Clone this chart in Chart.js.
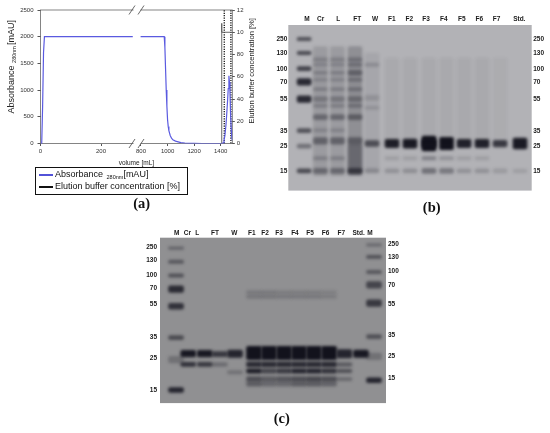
<!DOCTYPE html>
<html>
<head>
<meta charset="UTF-8">
<title>Purification chromatogram and SDS-PAGE</title>
<script src="https://cdn.jsdelivr.net/npm/chart.js@4.4.0/dist/chart.umd.min.js"></script>
<style>
  html, body {margin: 0; padding: 0; background: #fff;}
  body {width: 550px; height: 433px; position: relative; overflow: hidden;
        font-family: "Liberation Sans", Arial, sans-serif;}
  canvas {position: absolute;}
  #chromCanvas {left: 0; top: 0;}
  #gelB {left: 268px; top: 8px;}
  #gelC {left: 132px; top: 222px;}
  #legend {position: absolute; left: 35px; top: 167px; width: 151px; height: 25px;
           border: 1px solid #111; font-size: 9px; color: #111; line-height: 11.7px; padding-top: 1px;}
  #legend .row {position: relative; padding-left: 19px; white-space: nowrap;}
  #legend .sw {position: absolute; left: 3px; top: 5px; width: 14px; height: 2px;}
  #legend sub {font-size: 5.5px; vertical-align: -2px; margin-left: 1px; line-height: 0;}
  .cap {position: absolute; transform: translate(-50%, -50%);
        font: bold 14.5px "Liberation Serif", "DejaVu Serif", serif; color: #111;}
</style>
</head>
<body>
<canvas id="chromCanvas" width="275" height="170"></canvas>
<div id="legend">
  <div class="row"><span class="sw" style="background:#5252d8"></span>Absorbance <sub>280nm</sub>[mAU]</div>
  <div class="row"><span class="sw" style="background:#111"></span>Elution buffer concentration [%]</div>
</div>
<div class="cap" style="left:141.7px; top:203px">(a)</div>
<canvas id="gelB" width="282" height="188"></canvas>
<div class="cap" style="left:431.7px; top:206.7px">(b)</div>
<canvas id="gelC" width="278" height="188"></canvas>
<div class="cap" style="left:281.7px; top:418.3px">(c)</div>

<script>
// ---------- (a) chromatogram data ----------
var absVol = [0, 4, 7, 10, 13, 305, 550, 797, 975, 980, 985, 990, 995, 1000, 1005, 1010, 1020, 1030,
              1040, 1060, 1080, 1100, 1130, 1160, 1200, 1260, 1410, 1418, 1425, 1432, 1440, 1445,
              1452, 1457, 1462, 1466, 1470, 1475, 1480, 1484, 1487];
var absMAU = [0, 0, 700, 1700, 2000, 2000, null, 2000, 2000, 1800, 1400, 1000, 700, 450, 320, 240, 150, 100,
              70, 45, 30, 15, 7, 4, 2, 0, 0, 10, 60, 150, 350, 530,
              800, 1030, 1270, 1150, 960, 520, 250, 110, 60];
var eluVol = [1408, 1408, 1408, 1487];
var eluPct = [0, 10.8, 10, 10];
var fracVol = [1427, 1477];
var volTicks = [0, 200, 800, 1000, 1200, 1400];
var eluTickLabels = ['0', '20', '40', '60', '80', '10', '12'];

// broken x axis: 0-319 mL at full scale, then 770 mL onward compressed
var BREAK_AT = 319, RESUME_AT = 770, RIGHT_RATIO = 0.439;
function toAxis(v) {
  return v <= BREAK_AT ? v : BREAK_AT + (v - RESUME_AT) * RIGHT_RATIO;
}

// ---------- (b) gel ----------
var gelBLanes = ['M', 'Cr', 'L', 'FT', 'W', 'F1', 'F2', 'F3', 'F4', 'F5', 'F6', 'F7', 'Std.'];
var gelBLabelX = [7.7, 13.3, 20.5, 28.3, 35.6, 42.5, 49.7, 56.6, 63.9, 71.3, 78.5, 85.6, 94.9];
var gelBLaneX = [6.5, 13.2, 20.2, 27.4, 34.4, 42.6, 50, 57.8, 65, 72.2, 79.6, 87, 95.2];
var markerKDa = [250, 130, 100, 70, 55, 35, 25, 15];
var gelBMarkerPos = [8.7, 17.1, 26.4, 34.3, 44.7, 63.9, 73.2, 88.1];
// [lane, migration, band width, darkness]
var gelBBands = [
  [0, 8.5, 2, .6], [0, 16.9, 2, .65], [0, 26.4, 2.5, .7], [0, 34.4, 4, .85], [0, 44.7, 4, .85],
  [0, 63.8, 2.5, .6], [0, 73.2, 2.5, .4], [0, 88.1, 2.5, .65],
  [1, 52, 78, .14], [1, 20.9, 2, .22], [1, 24, 2, .18], [1, 28.8, 2, .22], [1, 33, 2, .18], [1, 38.8, 2, .22],
  [1, 44.7, 3, .28], [1, 48.7, 2, .22], [1, 55.6, 3, .38], [1, 63.5, 2, .18], [1, 70, 4, .42], [1, 80.5, 2, .22], [1, 88.1, 3, .38],
  [2, 52, 78, .14], [2, 20.9, 2, .22], [2, 24, 2, .18], [2, 28.8, 2, .22], [2, 33, 2, .18], [2, 38.8, 2, .22],
  [2, 44.7, 3, .28], [2, 48.7, 2, .22], [2, 55.6, 3, .38], [2, 63.5, 2, .18], [2, 70, 4, .42], [2, 80.5, 2, .22], [2, 88.1, 3, .38],
  [3, 52, 78, .22], [3, 81, 18, .3], [3, 20.9, 2, .28], [3, 24, 2, .28], [3, 28.8, 3, .38], [3, 33, 2, .28], [3, 38.8, 2, .28],
  [3, 44.7, 3, .32], [3, 48.7, 2, .28], [3, 55.6, 3, .42], [3, 70, 4, .42], [3, 88.1, 3, .6],
  [4, 52, 70, .07], [4, 24, 2, .18], [4, 44, 3, .14], [4, 50, 2, .14], [4, 71.5, 3.5, .6], [4, 88.1, 2.5, .25],
  [5, 71.6, 5, .92], [5, 80.5, 2, .12], [5, 88.1, 2.5, .2], [5, 45, 50, .05],
  [6, 71.6, 5.5, .95], [6, 80.5, 2, .12], [6, 88.1, 2.5, .22], [6, 45, 50, .05],
  [7, 71.6, 9, 1], [7, 71.6, 5, 1], [7, 80.5, 2, .3], [7, 88.1, 3, .4], [7, 45, 50, .05],
  [8, 71.6, 7.5, 1], [8, 80.5, 2, .2], [8, 88.1, 3, .35], [8, 45, 50, .05],
  [9, 71.6, 5, .9], [9, 80.5, 2, .12], [9, 88.1, 2.5, .2], [9, 45, 50, .05],
  [10, 71.6, 5, .9], [10, 80.5, 2, .12], [10, 88.1, 2.5, .2], [10, 45, 50, .05],
  [11, 71.6, 4, .75], [11, 88.1, 2.5, .15], [11, 45, 50, .04],
  [12, 71.6, 6.5, .95], [12, 88.1, 2, .12]
];

// ---------- (c) gel ----------
var gelCLanes = ['M', 'Cr', 'L', 'FT', 'W', 'F1', 'F2', 'F3', 'F4', 'F5', 'F6', 'F7', 'Std.', 'M'];
var gelCLabelX = [7.4, 12.1, 16.5, 24.3, 32.9, 40.6, 46.5, 52.7, 59.7, 66.4, 73.3, 80.2, 87.9, 92.9];
var gelCLaneX = [7.1, 12.5, 19.8, 26.5, 33.2, 41.6, 48.2, 54.9, 61.5, 68.1, 74.8, 81.6, 88.9, 94.7];
var gelCLeftPos = [5.7, 13.7, 22.8, 30.7, 40.0, 60.4, 72.7, 92.5];
var gelCRightPos = [3.7, 11.6, 20.2, 28.5, 40.0, 59.2, 71.7, 85.0];
var gelCBands = [
  [0, 6.3, 1.5, .35], [0, 14.6, 2, .45], [0, 22.8, 2, .5], [0, 31.1, 4, .8], [0, 41.4, 3.5, .75],
  [0, 60.4, 2.5, .55], [0, 73.7, 4, .25], [0, 92.1, 3, .85],
  [13, 4.3, 1.5, .3], [13, 11.6, 2, .5], [13, 20.8, 2, .45], [13, 28.5, 4, .6], [13, 39.6, 4, .7],
  [13, 59.8, 2.5, .5], [13, 71.7, 4, .25], [13, 86.2, 3, .85],
  [1, 70.1, 4, .95], [1, 76.6, 2.5, .75],
  [2, 70.1, 4, .95], [2, 76.6, 2.5, .7],
  [3, 70.4, 3, .7], [3, 76.6, 2, .3],
  [4, 70.2, 4.5, .85], [4, 81.4, 2, .25],
  [5, 69.7, 8, 1], [5, 76.6, 3, .8], [5, 80.6, 2.5, .9], [5, 85.5, 3, .5], [5, 88.5, 2.5, .4], [5, 33, 2, .18], [5, 35.7, 2, .2],
  [6, 69.7, 8, 1], [6, 76.6, 3, .8], [6, 80.6, 2.5, .6], [6, 85.5, 3, .4], [6, 88.5, 2.5, .3], [6, 33, 2, .18], [6, 35.7, 2, .2],
  [7, 69.7, 8, 1], [7, 76.6, 3, .8], [7, 80.6, 2.5, .7], [7, 85.5, 3, .45], [7, 88.5, 2.5, .3], [7, 33, 2, .15], [7, 35.7, 2, .18],
  [8, 69.7, 8, 1], [8, 76.6, 3, .8], [8, 80.6, 2.5, .85], [8, 85.5, 3, .5], [8, 88.5, 2.5, .4], [8, 33, 2, .15], [8, 35.7, 2, .18],
  [9, 69.7, 8, 1], [9, 76.6, 3, .8], [9, 80.6, 2.5, .85], [9, 85.5, 3, .55], [9, 88.5, 2.5, .4], [9, 33, 2, .15], [9, 35.7, 2, .18],
  [10, 69.7, 8, 1], [10, 76.6, 3, .8], [10, 80.6, 2.5, .75], [10, 85.5, 3, .5], [10, 88.5, 2.5, .35], [10, 33, 2, .12], [10, 35.7, 2, .15],
  [11, 70.2, 5, .85], [11, 76.6, 2, .45], [11, 80.6, 2, .5], [11, 85.5, 2, .3],
  [12, 70.2, 4.5, .95]
];

Chart.defaults.font.family = '"Liberation Sans", Arial, sans-serif';
Chart.defaults.color = '#333';

// ---------- chromatogram ----------
var chromFrame = {
  id: 'chromFrame',
  beforeDatasetsDraw: function (chart) {
    var a = chart.chartArea, ctx = chart.ctx;
    ctx.save();
    ctx.strokeStyle = '#666';
    ctx.lineWidth = 0.8;
    ctx.strokeRect(a.left, a.top, a.right - a.left, a.bottom - a.top);
    ctx.restore();
  },
  afterDatasetsDraw: function (chart) {
    var a = chart.chartArea, ctx = chart.ctx;
    var px = chart.scales.x.getPixelForValue(BREAK_AT);
    ctx.save();
    [a.top, a.bottom].forEach(function (y) {
      ctx.fillStyle = '#fff';
      ctx.fillRect(px - 3.5, y - 1.5, 7, 3);
      ctx.strokeStyle = '#444';
      ctx.lineWidth = 0.8;
      ctx.beginPath();
      ctx.moveTo(px - 8, y + 4.5); ctx.lineTo(px - 2, y - 4.5);
      ctx.moveTo(px + 1, y + 4.5); ctx.lineTo(px + 7, y - 4.5);
      ctx.stroke();
    });
    ctx.restore();
  },
  afterDraw: function (chart) {
    var a = chart.chartArea, ctx = chart.ctx;
    var midY = (a.top + a.bottom) / 2;
    ctx.save();
    ctx.fillStyle = '#222';
    ctx.textBaseline = 'middle';
    // left title with subscript
    ctx.translate(12, midY - 10);
    ctx.rotate(-Math.PI / 2);
    var big = '9px "Liberation Sans", Arial', small = '5.5px "Liberation Sans", Arial';
    ctx.font = big;
    var w1 = ctx.measureText('Absorbance ').width, w3 = ctx.measureText('[mAU]').width;
    ctx.font = small;
    var w2 = ctx.measureText('280nm').width + 1;
    var x = -(w1 + w2 + w3) / 2;
    ctx.font = big; ctx.fillText('Absorbance ', x, 0); x += w1;
    ctx.font = small; ctx.fillText('280nm', x, 2.5); x += w2;
    ctx.font = big; ctx.fillText('[mAU]', x, 0);
    ctx.restore();
    // right title
    ctx.save();
    ctx.fillStyle = '#222';
    ctx.textBaseline = 'middle';
    ctx.textAlign = 'center';
    ctx.translate(251.7, midY - 6);
    ctx.rotate(-Math.PI / 2);
    ctx.font = '7.6px "Liberation Sans", Arial';
    ctx.fillText('Elution buffer concentration [%]', 0, 0);
    ctx.restore();
  }
};

function pts(xs, ys) {
  return xs.map(function (v, i) { return {x: toAxis(v), y: ys[i]}; });
}

var fracSets = fracVol.map(function (v) {
  return {
    data: [{x: toAxis(v), y: 0}, {x: toAxis(v), y: 12}],
    yAxisID: 'y2', borderColor: '#111', borderWidth: 1.3, borderDash: [1.2, 1.2], pointRadius: 0
  };
});

new Chart(document.getElementById('chromCanvas'), {
  type: 'line',
  data: {
    datasets: [
      {label: 'Absorbance 280nm[mAU]', data: pts(absVol, absMAU), yAxisID: 'y',
       borderColor: '#5a5ae0', borderWidth: 1.2, pointRadius: 0, spanGaps: false, tension: 0},
      {label: 'Elution buffer concentration [%]', data: pts(eluVol, eluPct), yAxisID: 'y2',
       borderColor: '#555', borderWidth: 0.9, pointRadius: 0}
    ].concat(fracSets)
  },
  options: {
    responsive: false,
    animation: false,
    layout: {padding: {top: 10}},
    plugins: {legend: {display: false}, tooltip: {enabled: false}},
    scales: {
      x: {
        type: 'linear', min: 0, max: 634,
        afterBuildTicks: function (s) { s.ticks = volTicks.map(function (v) { return {value: toAxis(v)}; }); },
        afterFit: function (s) { s.height = 26.5; },
        ticks: {callback: function (v, i) { return String(volTicks[i]); }, autoSkip: false, maxRotation: 0,
                font: {size: 6}, padding: 2},
        grid: {drawOnChartArea: false, tickLength: 2.5, color: '#555'},
        border: {display: false},
        title: {display: true, text: 'volume [mL]', font: {size: 6.5}, color: '#222', padding: {top: 0, bottom: 3}}
      },
      y: {
        min: 0, max: 2500,
        afterFit: function (s) { s.width = 40.5; },
        ticks: {stepSize: 500, font: {size: 6}, padding: 4,
                callback: function (v) { return String(v); }},
        grid: {drawOnChartArea: false, tickLength: 3, color: '#555'},
        border: {display: false}
      },
      y2: {
        position: 'right', min: 0, max: 12,
        afterFit: function (s) { s.width = 42.7; },
        ticks: {stepSize: 2, font: {size: 6}, padding: 2,
                callback: function (v, i) { return eluTickLabels[i]; }},
        grid: {drawOnChartArea: false, tickLength: 2.5, color: '#555'},
        border: {display: false}
      }
    }
  },
  plugins: [chromFrame]
});

// ---------- gels ----------
function gelChart(id, lanes, labelX, laneX, bands, leftPos, rightPos, box, bg, thick) {
  var gelBack = {
    id: 'gelBack',
    beforeDraw: function (chart) {
      var a = chart.chartArea, ctx = chart.ctx;
      ctx.save();
      ctx.fillStyle = bg;
      ctx.fillRect(a.left, a.top, a.right - a.left, a.bottom - a.top);
      ctx.restore();
    },
    beforeDatasetsDraw: function (chart) { chart.ctx.save(); chart.ctx.filter = 'blur(1.4px)'; },
    afterDatasetsDraw: function (chart) { chart.ctx.restore(); }
  };
  var tickFont = {size: 6.5, weight: 'bold'};
  return new Chart(document.getElementById(id), {
    type: 'bar',
    data: {
      datasets: [{
        data: bands.map(function (b) { return {x: laneX[b[0]], y: [b[1] - b[2] / 2, b[1] + b[2] / 2]}; }),
        backgroundColor: bands.map(function (b) { return 'rgba(18,18,28,' + b[3] + ')'; }),
        barThickness: thick, borderRadius: 2, borderSkipped: false
      }]
    },
    options: {
      responsive: false,
      animation: false,
      layout: {padding: {bottom: box.bottom}},
      plugins: {legend: {display: false}, tooltip: {enabled: false}},
      scales: {
        x: {
          type: 'linear', position: 'top', min: 0, max: 100, offset: false,
          afterBuildTicks: function (s) { s.ticks = labelX.map(function (v) { return {value: v}; }); },
          afterFit: function (s) { s.height = box.top; },
          ticks: {callback: function (v, i) { return lanes[i]; }, autoSkip: false, maxRotation: 0,
                  font: tickFont, color: '#1a1a1a', padding: box.labelPad},
          grid: {display: false, drawTicks: false}, border: {display: false}
        },
        y: {
          min: 0, max: 100, reverse: true,
          afterBuildTicks: function (s) { s.ticks = leftPos.map(function (v) { return {value: v}; }); },
          afterFit: function (s) { s.width = box.left; },
          ticks: {callback: function (v, i) { return String(markerKDa[i]); }, autoSkip: false,
                  font: tickFont, color: '#1a1a1a', padding: box.leftPad},
          grid: {display: false, drawTicks: false}, border: {display: false}
        },
        y2: {
          position: 'right', min: 0, max: 100, reverse: true,
          afterBuildTicks: function (s) { s.ticks = rightPos.map(function (v) { return {value: v}; }); },
          afterFit: function (s) { s.width = box.right; },
          ticks: {callback: function (v, i) { return String(markerKDa[i]); }, autoSkip: false,
                  font: tickFont, color: '#1a1a1a', padding: box.rightPad},
          grid: {display: false, drawTicks: false}, border: {display: false}
        }
      }
    },
    plugins: [gelBack]
  });
}

gelChart('gelB', gelBLanes, gelBLabelX, gelBLaneX, gelBBands, gelBMarkerPos, gelBMarkerPos,
         {top: 17, left: 20.3, right: 18.3, bottom: 3.3, labelPad: 1.5, leftPad: 1, rightPad: 1.5},
         '#b2b2b6', 14);
gelChart('gelC', gelCLanes, gelCLabelX, gelCLaneX, gelCBands, gelCLeftPos, gelCRightPos,
         {top: 15.7, left: 28, right: 24, bottom: 4, labelPad: 1, leftPad: 3, rightPad: 2},
         '#909092', 15);
</script>
</body>
</html>
